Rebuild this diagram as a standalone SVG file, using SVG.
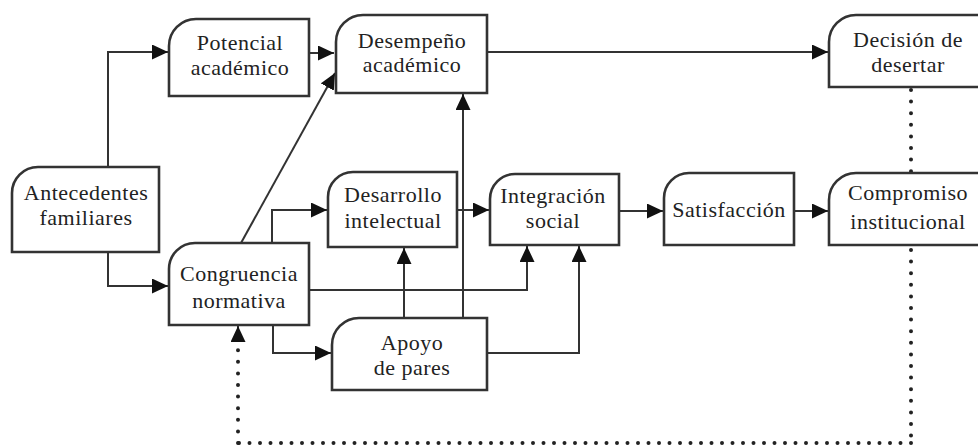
<svg xmlns="http://www.w3.org/2000/svg" width="978" height="445" viewBox="0 0 978 445">
<style>
.box{fill:#fff;stroke:#333;stroke-width:2.6}
.lbl{font-family:'Liberation Serif','DejaVu Serif',serif;font-size:22px;fill:#222;text-anchor:middle;letter-spacing:0.5px}
.c{fill:none;stroke:#333;stroke-width:2}
.d{fill:none;stroke:#222;stroke-width:4;stroke-linecap:round;stroke-dasharray:0 11.6}
.dh{fill:none;stroke:#222;stroke-width:4;stroke-linecap:round;stroke-dasharray:0 10.5}
</style>
<defs>
<marker id="ah" markerUnits="userSpaceOnUse" markerWidth="18" markerHeight="16" refX="16" refY="7.5" orient="auto">
<path d="M0,0 L16,7.5 L0,15 z" fill="#111"/>
</marker>
</defs>
<rect width="978" height="445" fill="#fff"/>
<g id="connectors">
<path class="c" d="M108,167 V52 H168" marker-end="url(#ah)"/>
<path class="c" d="M108,252 V286 H168" marker-end="url(#ah)"/>
<path class="c" d="M309,53 H334" marker-end="url(#ah)"/>
<path class="c" d="M241,243 L335,73" marker-end="url(#ah)"/>
<path class="c" d="M487,52 H828" marker-end="url(#ah)"/>
<path class="c" d="M272,243 V210 H327" marker-end="url(#ah)"/>
<path class="c" d="M457,210 H489" marker-end="url(#ah)"/>
<path class="c" d="M619,211 H663" marker-end="url(#ah)"/>
<path class="c" d="M794,211 H828" marker-end="url(#ah)"/>
<path class="c" d="M309,290 H527 V246" marker-end="url(#ah)"/>
<path class="c" d="M273,325 V353 H331" marker-end="url(#ah)"/>
<path class="c" d="M404,318 V248" marker-end="url(#ah)"/>
<path class="c" d="M463,318 V94" marker-end="url(#ah)"/>
<path class="c" d="M487,353 H579 V246" marker-end="url(#ah)"/>
<path class="d" d="M911,90 V172"/>
<path class="d" d="M911,250 V443"/>
<path class="dh" d="M911,443 H238"/>
<path class="d" d="M238,443 V340"/>
<path class="c" d="M238,342 V326" marker-end="url(#ah)"/>
</g>
<g font-family="Liberation Serif, DejaVu Serif, serif">
<g id="antecedentes">
<path class="box" d="M12,252 V193 A26,26 0 0 1 38,167 H159 V252 Z"/>
<text class="lbl" x="86" y="200">Antecedentes</text>
<text class="lbl" x="86" y="225">familiares</text>
</g>
<g id="potencial">
<path class="box" d="M169,96 V46 A27,27 0 0 1 196,19 H309 V96 Z"/>
<text class="lbl" x="240" y="50">Potencial</text>
<text class="lbl" x="240" y="75">académico</text>
</g>
<g id="desempeno">
<path class="box" d="M336,93 V42 A27,27 0 0 1 363,15 H487 V93 Z"/>
<text class="lbl" x="412" y="48">Desempeño</text>
<text class="lbl" x="412" y="72">académico</text>
</g>
<g id="decision">
<path class="box" d="M829,87 V42 A27,27 0 0 1 856,15 H990 V87 Z"/>
<text class="lbl" x="908" y="47">Decisión de</text>
<text class="lbl" x="908" y="72">desertar</text>
</g>
<g id="congruencia">
<path class="box" d="M169,325 V269 A26,26 0 0 1 195,243 H309 V325 Z"/>
<text class="lbl" x="239" y="281">Congruencia</text>
<text class="lbl" x="239" y="308">normativa</text>
</g>
<g id="desarrollo">
<path class="box" d="M328,247 V197 A25,25 0 0 1 353,172 H457 V247 Z"/>
<text class="lbl" x="393" y="202">Desarrollo</text>
<text class="lbl" x="393" y="228">intelectual</text>
</g>
<g id="integracion">
<path class="box" d="M490,245 V199 A25,25 0 0 1 515,174 H619 V245 Z"/>
<text class="lbl" x="553" y="203">Integración</text>
<text class="lbl" x="553" y="228">social</text>
</g>
<g id="satisfaccion">
<path class="box" d="M664,245 V198 A25,25 0 0 1 689,173 H794 V245 Z"/>
<text class="lbl" x="729" y="217">Satisfacción</text>
</g>
<g id="compromiso">
<path class="box" d="M829,245 V200 A27,27 0 0 1 856,173 H990 V245 Z"/>
<text class="lbl" x="908" y="200">Compromiso</text>
<text class="lbl" x="908" y="229">institucional</text>
</g>
<g id="apoyo">
<path class="box" d="M332,390 V345 A27,27 0 0 1 359,318 H487 V390 Z"/>
<text class="lbl" x="412" y="350">Apoyo</text>
<text class="lbl" x="412" y="375">de pares</text>
</g>
</g>
</svg>
